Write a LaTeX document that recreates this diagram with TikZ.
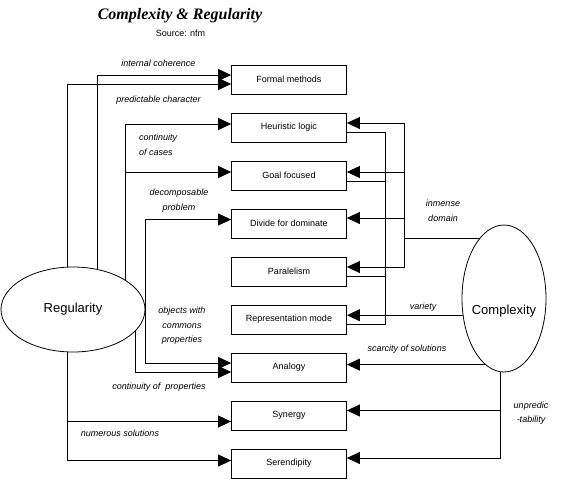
\documentclass[tikz,border=0pt]{standalone}
\usepackage{fontspec}
\setmainfont{Liberation Serif}
\newfontfamily\arial{Liberation Sans}
\usetikzlibrary{arrows.meta,shapes.geometric,calc}
\begin{document}
\begin{tikzpicture}[x=1pt,y=-1pt,
  box/.style={draw, line width=0.8pt, minimum width=115pt, minimum height=29pt, inner sep=0pt, font=\arial\fontsize{9}{11}\selectfont},
  lbl/.style={font=\arial\itshape\fontsize{9}{15}\selectfont, inner sep=0pt, align=center},
  conn/.style={line width=0.8pt},
  arr/.style={conn, -{Triangle[length=13pt,width=12pt]}},
  oval/.style={draw, ellipse, line width=0.8pt, inner sep=0pt}]
\useasboundingbox (0,0) rectangle (565,482);
% title
\node[font=\bfseries\itshape\fontsize{16}{19}\selectfont, inner sep=0pt] (title) at (180,16) {Complexity \& Regularity};
\node[font=\arial\fontsize{9}{11}\selectfont, inner sep=0pt] (src) at (180.5,33) {Source: nfm};
% boxes
\node[box] (fm) at (289,79.5) {Formal methods};
\node[box] (hl) at (289,127.5) {Heuristic logic};
\node[box] (gf) at (289,175.5) {Goal focused};
\node[box] (dd) at (289,223.5) {Divide for dominate};
\node[box] (pa) at (289,271.5) {Paralelism};
\node[box] (rm) at (289,319.5) {Representation mode};
\node[box] (an) at (289,367.5) {Analogy};
\node[box] (sy) at (289,415.5) {Synergy};
\node[box] (se) at (289,463.5) {Serendipity};
% ellipses
\node[oval, minimum width=144pt, minimum height=85pt, font=\arial\fontsize{13}{15}\selectfont] (reg) at (73,309.5) {Regularity};
\node[oval, minimum width=84pt, minimum height=147pt,
  label={[name=cxl, font=\arial\fontsize{13}{15}\selectfont, yshift=-12.5pt]center:Complexity}] (cx) at (504,298.5) {};
% left connectors
\draw[arr] (reg.97) |- ([yshift=-4.5pt]fm.west);
\draw[arr] (reg.59) |- ([yshift=4.5pt]fm.west);
\draw[arr] (reg.29) |- ([yshift=3.5pt]hl.west);
\draw[arr] (reg.29) |- ([yshift=3.5pt]gf.west);
\draw[arr] (reg.east) |- ([yshift=4pt]dd.west);
\draw[arr] (reg.east) |- ([yshift=4.5pt]an.west);
\draw[arr] (reg.-19) |- ([yshift=-4.5pt]an.west);
\draw[arr] (reg.263) |- ([yshift=-6pt]sy.west);
\draw[arr] (reg.263) |- ([yshift=3pt]se.west);
% right connectors
\coordinate (ob) at (404,0);
\draw[arr] (cx.112) -- (cx.112 -| ob) |- ([yshift=4.5pt]hl.east);
\draw[arr] (cx.112) -- (cx.112 -| ob) |- ([yshift=3.5pt]gf.east);
\draw[arr] (cx.112) -- (cx.112 -| ob) |- ([yshift=5.5pt]dd.east);
\draw[arr] (cx.112) -- (cx.112 -| ob) |- ([yshift=4.5pt]pa.east);
\draw[conn] ($(hl.east)+(0,4.5)$) -| ($(rm.east)+(38.5,4.5)$) -- ($(rm.east)+(0,4.5)$);
\draw[conn] ($(gf.east)+(0,5.5)$) -- ++(38.5,0);
\draw[conn] ($(pa.east)+(0,4.5)$) -- ++(38.5,0);
\draw[arr] (cx.202) -- (cx.202 -| rm.east);
\draw[arr] (cx.254) -- (cx.254 -| an.east);
\draw[arr] (cx.267) |- ([yshift=5pt]sy.east);
\draw[arr] (cx.267) |- ([yshift=5.5pt]se.east);
% labels
\node[lbl] (l1) at (158.5,63.5) {internal coherence};
\node[lbl] (l2) at (158.5,100) {predictable character};
\node[lbl, align=left, anchor=west] (l3) at (139,144.5) {continuity\\of cases};
\node[lbl] (l4) at (179,200.5) {decomposable\\problem};
\node[lbl, font=\arial\itshape\fontsize{9}{14.5}\selectfont] (l5) at (182,326) {objects with\\commons\\properties};
\node[lbl] (l6) at (159,387) {continuity of~ properties};
\node[lbl] (l7) at (120,433) {numerous solutions};
\node[lbl] (l8) at (443,210.5) {inmense\\domain};
\node[lbl] (l9) at (423,307) {variety};
\node[lbl] (l10) at (407,349) {scarcity of solutions};
\node[lbl, font=\arial\itshape\fontsize{9}{14}\selectfont] (l11) at (531,413) {unpredic\\-tability};
\end{tikzpicture}
\end{document}
